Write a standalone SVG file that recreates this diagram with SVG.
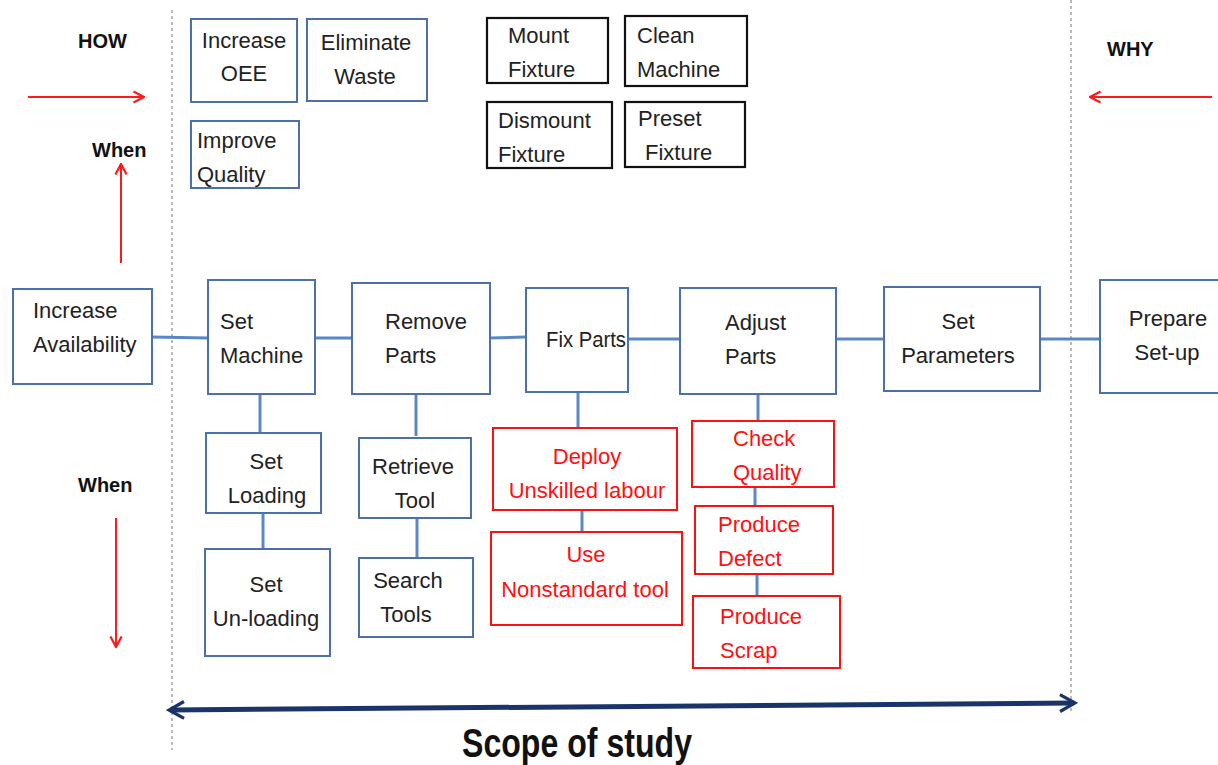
<svg xmlns="http://www.w3.org/2000/svg" width="1218" height="765" viewBox="0 0 1218 765">
  <style>
    .txt { font-family: "Liberation Sans", Arial, sans-serif; font-size: 22px; fill: #222; }
    .red .txt { fill: #ff1010; }
    .lbl { font-family: "Liberation Sans", Arial, sans-serif; font-size: 20px; font-weight: bold; fill: #111; }
    .bbox { fill: #fff; stroke: #4a72a8; stroke-width: 2; }
    .kbox { fill: #fff; stroke: #111; stroke-width: 2.2; }
    .rbox { fill: #fff; stroke: #ff1010; stroke-width: 2; }
    .conn { stroke: #5a88c6; stroke-width: 3; fill: none; }
    .guide { stroke: #777; stroke-width: 1; stroke-dasharray: 3 3; fill: none; }
    .rarrow { stroke: #ff1a1a; stroke-width: 2; fill: none; marker-end: url(#redHead); }
  </style>
  <defs>
    <marker id="redHead" viewBox="0 0 10 10" refX="9" refY="5" markerWidth="7" markerHeight="7" orient="auto" markerUnits="strokeWidth">
      <path d="M1.5,1 L9,5 L1.5,9" fill="none" stroke="#ff1a1a" stroke-width="1.6"/>
    </marker>
    <marker id="navyHead" viewBox="0 0 10 10" refX="8" refY="5" markerWidth="4" markerHeight="5" orient="auto-start-reverse" markerUnits="strokeWidth">
      <path d="M1,0.8 L8.5,5 L1,9.2" fill="none" stroke="#1b336b" stroke-width="1.6"/>
    </marker>
  </defs>

  <rect width="1218" height="765" fill="#fff"/>

  <!-- scope boundaries -->
  <line class="guide" x1="172" y1="10" x2="172" y2="750"/>
  <line class="guide" x1="1071" y1="0" x2="1071" y2="712"/>

  <!-- direction labels -->
  <g id="legend">
    <text class="lbl" x="78" y="48">HOW</text>
    <line class="rarrow" x1="28" y1="97" x2="144" y2="97"/>
    <text class="lbl" x="92" y="157">When</text>
    <line class="rarrow" x1="121" y1="263" x2="121" y2="164"/>
    <text class="lbl" x="78" y="492">When</text>
    <line class="rarrow" x1="116" y1="518" x2="116" y2="647"/>
    <text class="lbl" x="1107" y="56">WHY</text>
    <line class="rarrow" x1="1212" y1="97" x2="1090" y2="97"/>
  </g>

  <!-- connectors -->
  <g id="connectors">
    <line class="conn" x1="152" y1="337" x2="208" y2="338"/>
    <line class="conn" x1="315" y1="338" x2="352" y2="338"/>
    <line class="conn" x1="490" y1="338" x2="526" y2="337"/>
    <line class="conn" x1="628" y1="339" x2="680" y2="339"/>
    <line class="conn" x1="836" y1="339" x2="884" y2="339"/>
    <line class="conn" x1="1040" y1="339" x2="1100" y2="339"/>
    <line class="conn" x1="260" y1="394" x2="260" y2="433"/>
    <line class="conn" x1="263" y1="513" x2="263" y2="549"/>
    <line class="conn" x1="416" y1="394" x2="416" y2="436"/>
    <line class="conn" x1="417" y1="518" x2="417" y2="558"/>
    <line class="conn" x1="578" y1="392" x2="578" y2="428"/>
    <line class="conn" x1="582" y1="510" x2="582" y2="532"/>
    <line class="conn" x1="758" y1="394" x2="758" y2="421"/>
    <line class="conn" x1="755" y1="484" x2="755" y2="506"/>
    <line class="conn" x1="757" y1="574" x2="757" y2="596"/>
  </g>

  <!-- goals -->
  <g id="increase-oee"><rect class="bbox" x="191" y="19" width="106" height="83"/>
    <text class="txt" x="244" y="48" text-anchor="middle">Increase</text>
    <text class="txt" x="244" y="81" text-anchor="middle">OEE</text></g>
  <g id="eliminate-waste"><rect class="bbox" x="307" y="19" width="120" height="82"/>
    <text class="txt" x="366" y="50" text-anchor="middle">Eliminate</text>
    <text class="txt" x="365" y="84" text-anchor="middle">Waste</text></g>
  <g id="improve-quality"><rect class="bbox" x="191" y="121" width="108" height="67"/>
    <text class="txt" x="197" y="148">Improve</text>
    <text class="txt" x="197" y="182">Quality</text></g>

  <!-- fixture tasks -->
  <g id="mount-fixture"><rect class="kbox" x="487" y="18" width="121" height="65"/>
    <text class="txt" x="508" y="43">Mount</text>
    <text class="txt" x="508" y="77">Fixture</text></g>
  <g id="clean-machine"><rect class="kbox" x="625" y="16" width="122" height="70"/>
    <text class="txt" x="637" y="43">Clean</text>
    <text class="txt" x="637" y="77">Machine</text></g>
  <g id="dismount-fixture"><rect class="kbox" x="487" y="102" width="125" height="66"/>
    <text class="txt" x="498" y="128">Dismount</text>
    <text class="txt" x="498" y="162">Fixture</text></g>
  <g id="preset-fixture"><rect class="kbox" x="625" y="102" width="120" height="65"/>
    <text class="txt" x="638" y="126">Preset</text>
    <text class="txt" x="645" y="160">Fixture</text></g>

  <!-- main chain -->
  <g id="increase-availability"><rect class="bbox" x="13" y="289" width="139" height="95"/>
    <text class="txt" x="33" y="318">Increase</text>
    <text class="txt" x="33" y="352">Availability</text></g>
  <g id="set-machine"><rect class="bbox" x="208" y="280" width="107" height="114"/>
    <text class="txt" x="220" y="329">Set</text>
    <text class="txt" x="220" y="363">Machine</text></g>
  <g id="remove-parts"><rect class="bbox" x="352" y="283" width="138" height="111"/>
    <text class="txt" x="385" y="329">Remove</text>
    <text class="txt" x="385" y="363">Parts</text></g>
  <g id="fix-parts"><rect class="bbox" x="526" y="288" width="102" height="104"/>
    <text class="txt" x="546" y="347" textLength="80" lengthAdjust="spacingAndGlyphs">Fix Parts</text></g>
  <g id="adjust-parts"><rect class="bbox" x="680" y="288" width="156" height="106"/>
    <text class="txt" x="725" y="330">Adjust</text>
    <text class="txt" x="725" y="364">Parts</text></g>
  <g id="set-parameters"><rect class="bbox" x="884" y="287" width="156" height="104"/>
    <text class="txt" x="958" y="329" text-anchor="middle">Set</text>
    <text class="txt" x="958" y="363" text-anchor="middle">Parameters</text></g>
  <g id="prepare-setup"><rect class="bbox" x="1100" y="280" width="130" height="113"/>
    <text class="txt" x="1168" y="326" text-anchor="middle">Prepare</text>
    <text class="txt" x="1167" y="360" text-anchor="middle">Set-up</text></g>

  <!-- sub-tasks -->
  <g id="set-loading"><rect class="bbox" x="206" y="433" width="115" height="80"/>
    <text class="txt" x="266" y="469" text-anchor="middle">Set</text>
    <text class="txt" x="267" y="503" text-anchor="middle">Loading</text></g>
  <g id="set-unloading"><rect class="bbox" x="205" y="549" width="125" height="107"/>
    <text class="txt" x="266" y="592" text-anchor="middle">Set</text>
    <text class="txt" x="266" y="626" text-anchor="middle">Un-loading</text></g>
  <g id="retrieve-tool"><rect class="bbox" x="359" y="438" width="112" height="80"/>
    <text class="txt" x="413" y="474" text-anchor="middle">Retrieve</text>
    <text class="txt" x="415" y="508" text-anchor="middle">Tool</text></g>
  <g id="search-tools"><rect class="bbox" x="359" y="558" width="114" height="79"/>
    <text class="txt" x="408" y="588" text-anchor="middle">Search</text>
    <text class="txt" x="406" y="622" text-anchor="middle">Tools</text></g>

  <!-- problem causes -->
  <g id="deploy-unskilled" class="red"><rect class="rbox" x="493" y="428" width="184" height="82"/>
    <text class="txt" x="587" y="464" text-anchor="middle">Deploy</text>
    <text class="txt" x="587" y="498" text-anchor="middle">Unskilled labour</text></g>
  <g id="use-nonstandard" class="red"><rect class="rbox" x="491" y="532" width="191" height="93"/>
    <text class="txt" x="586" y="562" text-anchor="middle">Use</text>
    <text class="txt" x="585" y="597" text-anchor="middle">Nonstandard tool</text></g>
  <g id="check-quality" class="red"><rect class="rbox" x="692" y="421" width="142" height="66"/>
    <text class="txt" x="733" y="446">Check</text>
    <text class="txt" x="733" y="480">Quality</text></g>
  <g id="produce-defect" class="red"><rect class="rbox" x="695" y="506" width="138" height="68"/>
    <text class="txt" x="718" y="532">Produce</text>
    <text class="txt" x="718" y="566">Defect</text></g>
  <g id="produce-scrap" class="red"><rect class="rbox" x="693" y="596" width="147" height="72"/>
    <text class="txt" x="720" y="624">Produce</text>
    <text class="txt" x="720" y="658">Scrap</text></g>

  <!-- scope of study -->
  <g id="scope">
    <line x1="170" y1="710" x2="1074" y2="703" stroke="#1b336b" stroke-width="5" marker-start="url(#navyHead)" marker-end="url(#navyHead)"/>
    <text x="577" y="757" text-anchor="middle" font-family="'Liberation Sans', Arial, sans-serif" font-size="40" font-weight="bold" fill="#111" textLength="230" lengthAdjust="spacingAndGlyphs">Scope of study</text>
  </g>
</svg>
